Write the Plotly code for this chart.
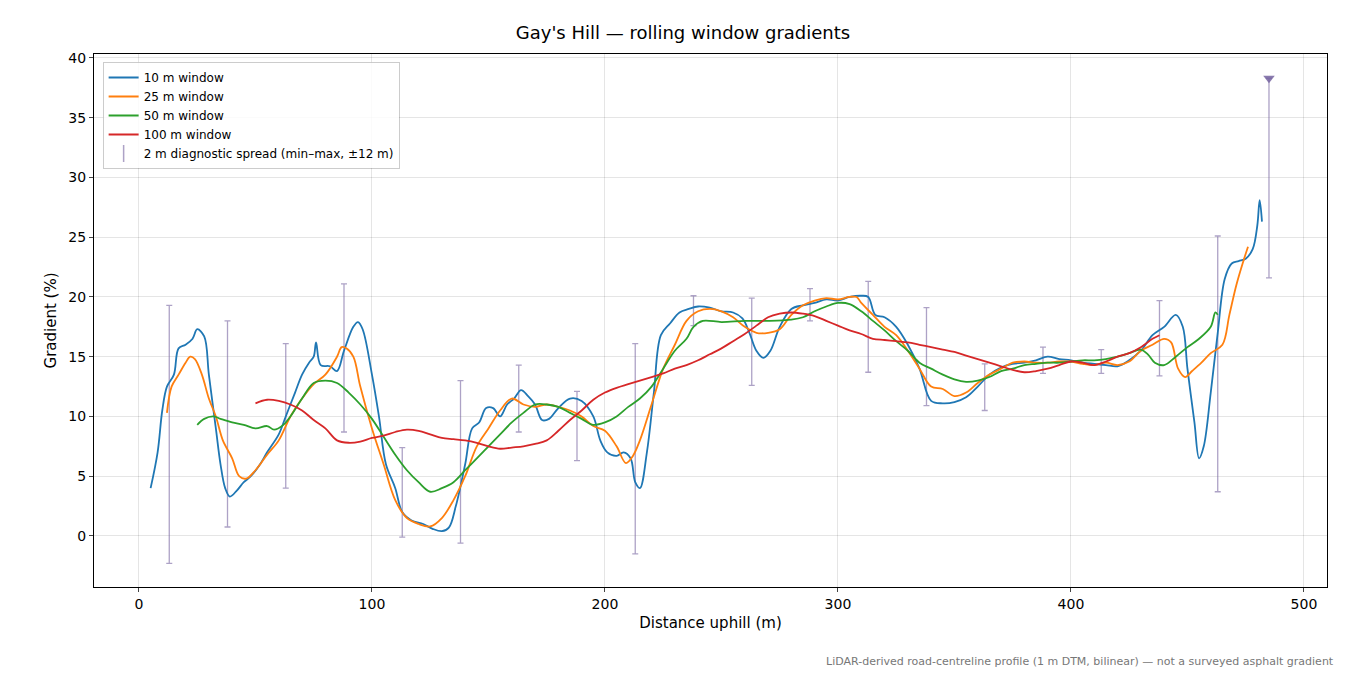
import plotly.graph_objects as go

b_x=[5,8,10,12,15,17,20,23,25,28,30,33,35,37,39,42,45,48,52,55,60,63,67,70,73,75,76,78,82,85,88,92,94,96,100,103,106,110,113,117,122,126,130,133,136,140,143,146,149,152,155,158,161,164,167,170,173,176,180,185,190,195,198,201,205,208,211,213,215,218,221,224,228,232,236,240,245,250,255,259,262,265,268,271,275,280,285,290,295,300,305,310,313,316,320,325,330,335,340,345,350,355,360,365,370,375,380,385,390,395,400,405,410,415,420,425,430,435,440,445,448,450,453,455,457,460,463,466,469,472,475,478,480,481,482]
b_y=[4.0,7,10.5,12.5,13.5,15.7,16,16.5,17.3,16.7,13.5,9,6,4,3.3,3.8,4.5,5,6,7,8.5,10,12,13.5,14.5,15,16.2,14.3,14.2,13.8,15.5,17.5,17.9,17.3,13.5,10,6,4,2,1.3,1,0.6,0.4,0.7,2.5,6,9,9.5,10.7,10.7,10,11,11.5,12.2,11.7,11,9.7,9.8,10.7,11.5,11.3,10,8,7,6.7,7,6.5,4.5,4,7,12,16.8,17.8,18.7,19,19.2,19.1,18.8,18.7,18.2,17,15.5,14.9,15.5,17.5,19,19.3,19.5,19.8,19.7,20,20.1,20,18.5,18.3,17.5,16,14,11.3,11.1,11.2,11.6,12.5,13.5,14.1,14.4,14.5,14.7,15,14.8,14.7,14.5,14.4,14.3,14.2,14.7,15.5,16.8,17.5,18.5,17.5,14,9.5,6.5,7.5,12,17,21.5,22.8,23,23.2,24,26,28.1,26.3]

o_x=[12,14,17,20,22,24,27,30,33,36,40,43,46,50,55,60,65,70,75,80,85,87,89,92,95,100,105,110,115,120,125,130,135,140,145,150,155,160,165,170,175,180,185,190,195,200,205,209,212,215,220,225,230,235,240,245,250,255,260,265,270,275,280,285,290,295,300,305,308,310,315,320,325,330,335,340,345,350,355,360,365,370,375,380,385,390,395,400,405,410,415,420,425,430,435,440,443,446,449,452,456,460,465,468,471,474,476]
o_y=[10.3,12.5,13.5,14.5,15,14.8,13.5,11.5,10,8,6.5,5,4.8,5.5,6.8,8,10,11.5,12.7,13.5,15,15.8,15.7,15,12.5,9,6,3,1.5,1,0.8,1.5,3,5,7.5,9,10.5,11.5,11,10.8,11,10.8,10.5,10,9.2,8.8,7.5,6.1,6.7,8,11,14,16,18,18.8,19,18.8,18.3,17.5,17,17,17.3,18.5,19.3,19.7,19.9,19.8,20,20,19.5,18.5,17.5,16.8,15.5,14,12.5,12.3,11.7,12,12.8,13.5,14,14.5,14.6,14.5,14.5,14.6,14.6,14.4,14.3,14.5,14.3,14.6,15.5,16,16.5,16.2,14,13.3,13.8,14.5,15.3,16,18.5,21,23,24.2]

g_x=[25,28,32,35,40,45,50,55,58,62,65,70,75,80,85,90,95,100,105,110,115,120,125,130,135,140,145,150,155,160,165,170,175,180,185,190,195,200,205,210,215,220,225,230,235,238,242,250,260,270,280,285,290,295,300,305,310,315,320,325,330,335,340,345,350,355,360,365,370,375,380,385,390,395,400,405,410,415,420,425,430,433,436,440,445,450,455,460,462,463]
g_y=[9.3,9.8,10,9.8,9.5,9.3,9,9.2,8.9,9.3,10,11.5,12.8,13,12.8,12,11,9.8,8.3,6.8,5.5,4.5,3.7,4,4.5,5.5,6.5,7.5,8.5,9.5,10.3,11,11,10.8,10.3,9.8,9.3,9.5,10,10.8,11.5,12.5,14,15.5,16.5,17.5,18,17.9,18,18,18.1,18.3,18.8,19.2,19.5,19.4,18.8,18,17.2,16.3,15.5,14.5,14,13.5,13.1,12.9,13,13.3,13.8,14,14.3,14.4,14.5,14.5,14.6,14.7,14.7,14.8,15,15.3,15.6,15.2,14.5,14.3,15,15.8,16.5,17.5,18.7,18.5]

r_x=[50,55,60,65,70,75,80,85,90,95,100,105,110,115,120,125,130,135,140,145,150,155,160,165,170,175,180,185,190,195,200,205,210,215,220,225,230,235,240,245,250,255,260,265,270,275,280,285,290,295,300,305,310,315,320,325,330,335,340,345,350,355,360,365,370,375,380,385,390,395,400,405,410,415,420,425,430,435,438]
r_y=[11.1,11.4,11.3,11,10.5,9.7,9,8,7.8,7.9,8.2,8.4,8.7,8.9,8.8,8.5,8.2,8.1,8,7.8,7.5,7.3,7.4,7.5,7.7,8,8.8,9.7,10.5,11.4,12,12.4,12.7,13,13.3,13.6,14,14.3,14.7,15.2,15.7,16.3,16.9,17.6,18.3,18.6,18.7,18.6,18.4,18,17.6,17.2,16.9,16.5,16.4,16.3,16.2,16,15.8,15.6,15.4,15.1,14.8,14.5,14.2,13.9,13.7,13.8,14,14.3,14.6,14.5,14.3,14.6,15,15.3,15.8,16.5,16.8]

e_x=[13,38,63,88,113,138,163,188,213,238,263,288,313,338,363,388,413,438,463,485]
e_max=[19.3,18.0,16.1,21.1,7.4,13.0,14.3,12.1,16.1,20.1,19.9,20.7,21.3,19.1,14.4,15.8,15.6,19.7,25.1,38.3]
e_min=[-2.3,0.75,4.0,8.7,-0.1,-0.6,8.7,6.3,-1.5,17.6,12.6,18.0,13.7,10.9,10.5,13.6,13.6,13.4,3.7,21.6]

EC="rgba(118,100,160,0.6)"
fig=go.Figure()
fig.add_trace(go.Scatter(x=e_x,y=e_min,mode="markers",marker=dict(size=0.1,opacity=0),showlegend=False,hoverinfo="skip",
    error_y=dict(type="data",symmetric=False,array=[a-b for a,b in zip(e_max,e_min)],arrayminus=[0]*len(e_x),color=EC,thickness=1.3,width=3)))
fig.add_trace(go.Scatter(x=e_x[-1:],y=e_max[-1:],mode="markers",marker=dict(symbol="triangle-down",size=10,color="rgba(118,100,160,0.85)"),showlegend=False))
cols=["#1f77b4","#ff7f0e","#2ca02c","#d62728"]
for xs,ys,c,n in [(b_x,b_y,cols[0],"10 m window"),(o_x,o_y,cols[1],"25 m window"),(g_x,g_y,cols[2],"50 m window"),(r_x,r_y,cols[3],"100 m window")]:
    fig.add_trace(go.Scatter(x=xs,y=ys,mode="lines",line=dict(color=c,width=1.8,shape="spline"),name=n))
fig.add_trace(go.Scatter(x=[None],y=[None],mode="markers",marker=dict(symbol="line-ns",size=12,line=dict(color=EC,width=1.5)),name="2 m diagnostic spread (min–max, ±12 m)"))

ax=dict(showline=True,mirror=True,linecolor="black",linewidth=1,ticks="outside",ticklen=4,gridcolor="rgba(0,0,0,0.1)",zeroline=False,
        tickfont=dict(size=14,color="black"),title_font=dict(size=15,color="black"))
fig.update_layout(width=1350,height=675,plot_bgcolor="white",paper_bgcolor="white",font=dict(family="DejaVu Sans"),
    margin=dict(l=86,r=31,t=46,b=96),
    title=dict(text="Gay's Hill — rolling window gradients",x=0.5,xanchor="center",y=0.963,yanchor="middle",font=dict(size=18,color="black")),
    xaxis=dict(ax,range=[-19.3,509.9],tickvals=[0,100,200,300,400,500],title=dict(text="Distance uphill (m)",standoff=6)),
    yaxis=dict(ax,range=[-4.27,40.33],tickvals=[0,5,10,15,20,25,30,35,40],title=dict(text="Gradient (%)",standoff=8)),
    legend=dict(x=0.007,y=0.985,xanchor="left",yanchor="top",bordercolor="rgba(0,0,0,0.2)",borderwidth=1,bgcolor="rgba(255,255,255,0.85)",font=dict(size=12,color="black"),tracegroupgap=0,itemwidth=30),
    annotations=[dict(text="LiDAR-derived road-centreline profile (1 m DTM, bilinear) — not a surveyed asphalt gradient",xref="paper",yref="paper",
        x=1.007,y=-0.124,xanchor="right",yanchor="top",showarrow=False,font=dict(size=11,color="#777"))])
fig.write_html("out.html")
